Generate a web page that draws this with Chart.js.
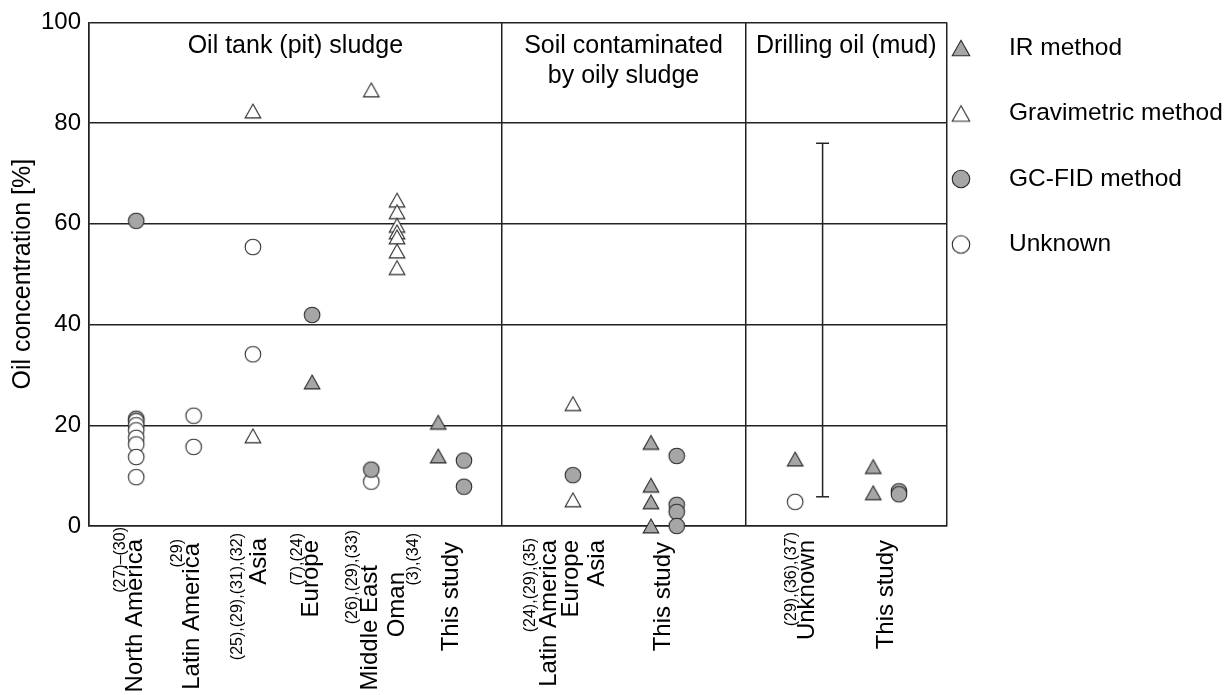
<!DOCTYPE html>
<html>
<head>
<meta charset="utf-8">
<script src="https://cdn.jsdelivr.net/npm/chart.js@4/dist/chart.umd.min.js"></script>
<style>
  html, body { margin: 0; padding: 0; background: #fff; }
  #wrap { width: 1227px; height: 695px; position: relative; }
</style>
</head>
<body>
<div id="wrap"><canvas id="chart" width="1227" height="695"></canvas></div>
<script>
const FONT = '"Liberation Sans", Arial, Helvetica, sans-serif';

// Sample groups along the horizontal axis
const sectionTitles = [['Oil tank (pit) sludge'], ['Soil contaminated', 'by oily sludge'], ['Drilling oil (mud)']];
const groupNames = ['North America', 'Latin America', 'Asia', 'Europe', 'Middle East', 'Oman', 'This study',
                    'Latin America', 'Europe', 'Asia', 'This study',
                    'Unknown', 'This study'];
const groupRefs = ['(27)–(30)', '(29)', '(25),(29),(31),(32)', '(7),(24)', '(26),(29),(33)', '(3),(34)', '',
                   '(24),(29),(35)', '', '', '',
                   '(29),(36),(37)', ''];
const yTickValues = [0, 20, 40, 60, 80, 100];

// Oil concentration [%] by analytical method, as [group index, value]
const irMethod = [[3, 28.6], [6, 20.6], [6, 13.9],
                  [10, 16.6], [10, 8.1], [10, 4.8], [10, 0],
                  [11, 13.3], [12, 11.8], [12, 6.6]];
const gravimetricMethod = [[2, 82.4], [2, 17.9], [4, 86.6],
                           [5, 64.7], [5, 62.4], [5, 59.7], [5, 58.4], [5, 57.4], [5, 54.6], [5, 51.3],
                           [8, 24.3], [8, 5.2]];
const gcFidMethod = [[0, 60.6], [0, 21.3], [3, 41.9], [4, 11.2], [6, 13.0], [6, 7.8],
                     [8, 10.1], [10, 13.9], [10, 4.2], [10, 2.8], [10, 0],
                     [12, 6.9], [12, 6.3]];
const unknownMethod = [[0, 20.8], [0, 20.0], [0, 19.0], [0, 17.5], [0, 16.2], [0, 13.7], [0, 9.7],
                       [1, 21.9], [1, 15.7], [2, 55.4], [2, 34.1], [4, 8.8], [11, 4.8]];
// Reported range for drilling mud of unknown method
const drillingRange = [5.8, 76];

// ---- layout (axis units 0–100 across the plot) ----
const sectionBounds = [0, 48.1, 76.5, 100];
const groupLabelX = [5.4, 12.1, 19.9, 25.9, 32.8, 35.9, 42.2, 53.6, 56.2, 59.3, 67.0, 83.7, 92.9];
const groupMarkerX = [5.5, 12.2, 19.1, 26.0, 32.9, 35.9, 42.2, 53.6, 56.4, 59.3, 67.0, 82.3, 92.9];
const studyShift = { ir: -1.5, gc: 1.5 };
const rangeX = 85.5;
// label placement in pixels: top end of the name below the axis, and the reference note beside it
const labelLayout = [
  { top: 13, refDx: -15, refTop: 1 },
  { top: 17, refDx: -15, refTop: 13 },
  { top: 12, refDx: -22, refTop: 7 },
  { top: 14, refDx: -14, refTop: 7 },
  { top: 39, refDx: -18, refTop: 4 },
  { top: 46, refDx: 17, refTop: 7 },
  { top: 16 },
  { top: 14, refDx: -18, refTop: 12 },
  { top: 14 },
  { top: 14 },
  { top: 16 },
  { top: 14, refDx: -16, refTop: 6 },
  { top: 14 }
];

function toPoints(rows, key) {
  return rows.map(([g, v]) => {
    let x = groupMarkerX[g];
    if (groupNames[g] === 'This study' && studyShift[key] !== undefined) x += studyShift[key];
    return { x: x, y: v };
  });
}

function markerImage(shape, fill, scale) {
  const s = 24;
  const c = document.createElement('canvas');
  c.width = s; c.height = s;
  const g = c.getContext('2d');
  g.fillStyle = fill;
  g.strokeStyle = '#2b2b2b';
  g.lineWidth = 1.1;
  g.beginPath();
  if (shape === 'triangle') {
    const w = 15.6 * scale, h = 13.8 * scale;
    g.moveTo(s / 2, (s - h) / 2);
    g.lineTo(s / 2 + w / 2, (s + h) / 2);
    g.lineTo(s / 2 - w / 2, (s + h) / 2);
    g.closePath();
  } else {
    g.arc(s / 2, s / 2, 7.8 * scale, 0, Math.PI * 2);
  }
  g.fill();
  g.stroke();
  return c;
}

const GREY = '#a6a6a6';
const markers = {
  ir: markerImage('triangle', GREY, 1),
  grav: markerImage('triangle', '#ffffff', 1),
  gc: markerImage('circle', GREY, 1),
  unk: markerImage('circle', '#ffffff', 1)
};
const legendMarkers = {
  ir: markerImage('triangle', GREY, 1.12),
  grav: markerImage('triangle', '#ffffff', 1.12),
  gc: markerImage('circle', GREY, 1.12),
  unk: markerImage('circle', '#ffffff', 1.12)
};

function drawUpward(ctx, text, x, yTop, size) {
  ctx.save();
  ctx.translate(x, yTop);
  ctx.rotate(-Math.PI / 2);
  ctx.font = size + 'px ' + FONT;
  ctx.textAlign = 'right';
  ctx.textBaseline = 'middle';
  ctx.fillText(text, 0, 0);
  ctx.restore();
}

const annotations = {
  id: 'annotations',
  afterDraw(chart) {
    const { ctx, chartArea, scales } = chart;
    const x = scales.x;
    ctx.save();
    ctx.fillStyle = '#000';

    // section headings inside the plot
    ctx.font = '25px ' + FONT;
    ctx.textAlign = 'center';
    ctx.textBaseline = 'middle';
    sectionTitles.forEach((lines, i) => {
      const cx = (x.getPixelForValue(sectionBounds[i]) + x.getPixelForValue(sectionBounds[i + 1])) / 2;
      lines.forEach((t, j) => ctx.fillText(t, cx, chartArea.top + 24 + j * 30));
    });

    // group names with reference notes
    groupNames.forEach((name, i) => {
      const gx = x.getPixelForValue(groupLabelX[i]);
      const L = labelLayout[i];
      drawUpward(ctx, name, gx, chartArea.bottom + L.top, 24);
      if (groupRefs[i]) drawUpward(ctx, groupRefs[i], gx + L.refDx, chartArea.bottom + L.refTop, 16);
    });

    // legend
    chart.data.datasets.filter(d => d.legendKey).forEach((d, row) => {
      const y = 48 + row * 65.5;
      const img = legendMarkers[d.legendKey];
      ctx.drawImage(img, 961 - img.width / 2, y - img.height / 2);
      ctx.font = '24.5px ' + FONT;
      ctx.textAlign = 'left';
      ctx.textBaseline = 'middle';
      ctx.fillText(d.label, 1009, y);
    });
    ctx.restore();
  }
};

const LINE = '#222';
const naUnknown = unknownMethod.filter(r => r[0] === 0);
const otherUnknown = unknownMethod.filter(r => r[0] !== 0);

new Chart(document.getElementById('chart'), {
  type: 'scatter',
  data: {
    datasets: [
      { label: 'IR method', data: toPoints(irMethod, 'ir'), pointStyle: markers.ir, legendKey: 'ir', order: 1 },
      { label: 'Gravimetric method', data: toPoints(gravimetricMethod, 'grav'), pointStyle: markers.grav, legendKey: 'grav', order: 2 },
      { label: 'GC-FID method', data: toPoints(gcFidMethod, 'gc'), pointStyle: markers.gc, legendKey: 'gc', order: 4 },
      { label: 'Unknown', data: toPoints(otherUnknown, 'unk'), pointStyle: markers.unk, legendKey: 'unk', order: 5 },
      // North American samples of unknown method sit over the GC-FID point behind them
      { label: 'Unknown (North America)', data: toPoints(naUnknown, 'unk'), pointStyle: markers.unk, order: 3 },
      {
        label: 'Range', data: drillingRange.map(v => ({ x: rangeX, y: v })),
        showLine: true, borderColor: LINE, borderWidth: 1.5,
        pointStyle: 'line', pointRadius: 6.5, pointBorderColor: LINE, pointBorderWidth: 1.5,
        order: 6
      }
    ]
  },
  options: {
    responsive: false,
    animation: false,
    events: [],
    layout: { padding: { top: 22, right: 280, bottom: 169, left: 0 } },
    elements: { point: { radius: 8 } },
    datasets: { scatter: { clip: false } },
    plugins: { legend: { display: false }, tooltip: { enabled: false } },
    scales: {
      x: {
        type: 'linear', min: 0, max: 100,
        afterBuildTicks: s => { s.ticks = sectionBounds.map(v => ({ value: v })); },
        ticks: { display: false },
        grid: { color: LINE, lineWidth: 1.5, drawTicks: false },
        border: { color: LINE, width: 1.5 }
      },
      y: {
        min: 0, max: 100,
        afterBuildTicks: s => { s.ticks = yTickValues.map(v => ({ value: v })); },
        afterFit: s => { s.width = 89; },
        ticks: { font: { family: FONT, size: 24 }, color: '#000', padding: 8 },
        grid: { color: LINE, lineWidth: 1.5, drawTicks: false },
        border: { color: LINE, width: 1.5 },
        title: { display: true, text: 'Oil concentration [%]', color: '#000',
                 font: { family: FONT, size: 25 }, padding: { top: 8, bottom: 0 } }
      }
    }
  },
  plugins: [annotations]
});
</script>
</body>
</html>
